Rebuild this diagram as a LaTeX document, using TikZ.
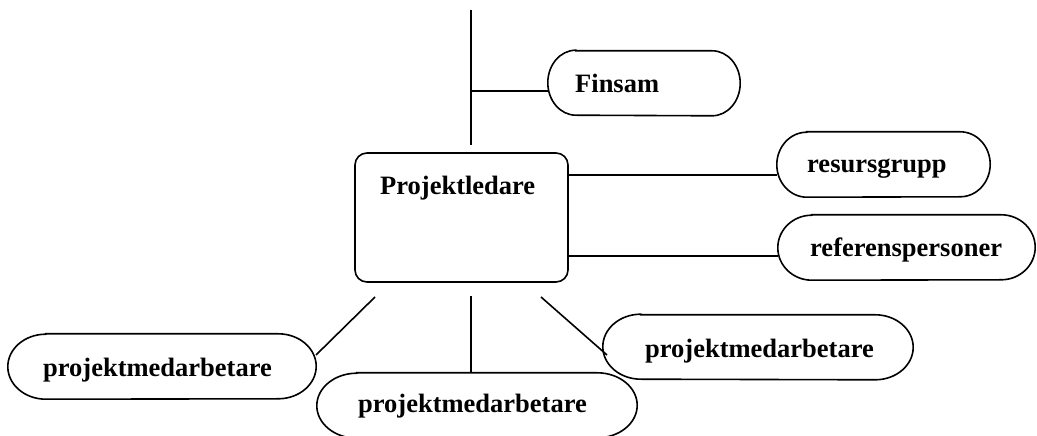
\documentclass[tikz,border=0pt]{standalone}
\usepackage{fontspec}
\setmainfont{Liberation Serif}
\usetikzlibrary{calc}
\tikzset{
  conn/.style={line width=1.6pt, black},
  termline/.style={line width=1.6pt, black},
  termbox/.style={draw=none, inner sep=0pt, minimum height=65pt},
  lbl/.style={inner sep=0pt, anchor=base west, font=\fontsize{26.5}{30}\selectfont\bfseries},
  leader/.style={draw, line width=1.6pt, rounded corners=12pt, inner sep=0pt, minimum width=213pt, minimum height=129pt}
}
\newcommand\termoutline[2]{%
  \draw[termline] ([xshift=#2]#1.north west) -- ([xshift=-#2]#1.north east)
    arc[start angle=90, end angle=-90, x radius=#2, y radius=32.5pt]
    -- ([xshift=#2]#1.south west)
    arc[start angle=270, end angle=90, x radius=#2, y radius=32.5pt] -- cycle;}
\begin{document}
\begin{tikzpicture}[x=1pt, y=1pt]
\useasboundingbox (0,0) rectangle (1037,436);
% shapes
\node[leader] (pl) at (461.5,218.5) {};
\node[termbox, minimum width=192pt, minimum height=64pt] (fin) at (644,353) {};
\node[termbox, minimum width=213pt] (res) at (883.5,271.5) {};
\node[termbox, minimum width=257pt] (ref) at (906.5,188.5) {};
\node[termbox, minimum width=308pt] (pm1) at (162,69.5) {};
\node[termbox, minimum width=320pt] (pm2) at (477,30.5) {};
\node[termbox, minimum width=310pt, minimum height=64pt] (pm3) at (758,89) {};
\termoutline{fin}{28pt}
\termoutline{res}{30pt}
\termoutline{ref}{34pt}
\termoutline{pm1}{38pt}
\termoutline{pm2}{40pt}
\termoutline{pm3}{38pt}
% labels
\node[lbl] (plT) at (380,241) {Projektledare};
\node[lbl] (finT) at (575,343) {Finsam};
\node[lbl] (resT) at (807,263) {resursgrupp};
\node[lbl] (refT) at (810,179) {referenspersoner};
\node[lbl] (pm1T) at (43,59) {projektmedarbetare};
\node[lbl] (pm2T) at (358,23) {projektmedarbetare};
\node[lbl] (pm3T) at (645,78) {projektmedarbetare};
% connectors
\coordinate (top) at (471,426);
\coordinate (topb) at (471,291);
\coordinate (j1) at (471,345);
\draw[conn] (top) -- (topb);
\draw[conn] (j1) -- (j1 -| fin.west);
\coordinate (r1) at (568,261);
\coordinate (r2) at (568,180);
\draw[conn] (r1 -| pl.east) -- (r1 -| res.west);
\draw[conn] (r2 -| pl.east) -- (r2 -| ref.west);
\coordinate (b1) at (375,139);
\coordinate (b1e) at (316,81);
\coordinate (b2) at (471,140);
\coordinate (b3) at (541,139);
\coordinate (b3e) at (607,81);
\draw[conn] (b1) -- (b1e);
\draw[conn] (b2) -- (b2 |- pm2.north);
\draw[conn] (b3) -- (b3e);
\end{tikzpicture}
\end{document}
